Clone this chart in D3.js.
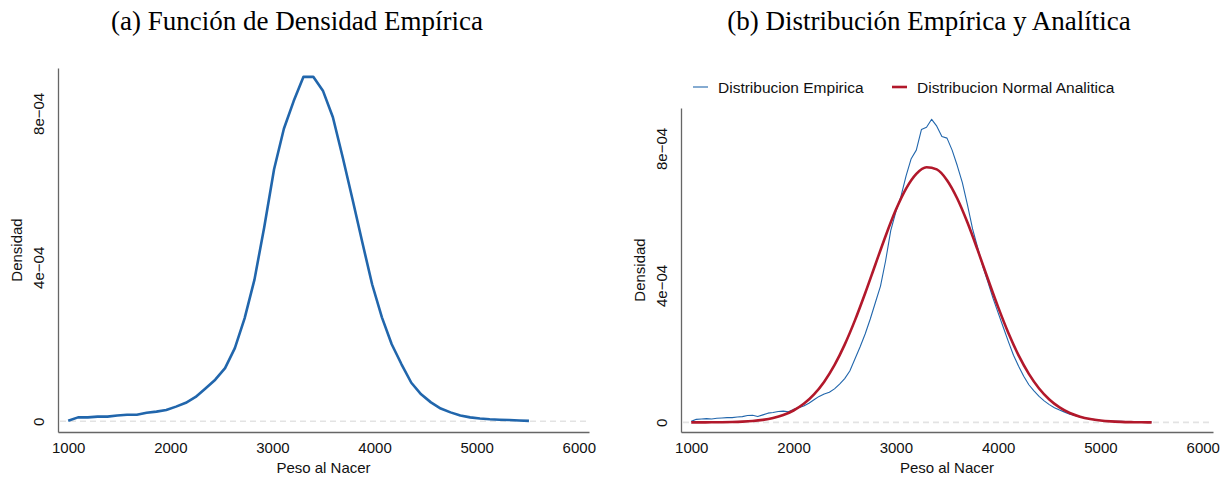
<!DOCTYPE html>
<html>
<head>
<meta charset="utf-8">
<script src="https://cdn.jsdelivr.net/npm/d3@7"></script>
<style>
  html, body { margin: 0; padding: 0; background: #fff; }
  svg { display: block; }
</style>
</head>
<body>
<svg id="chart" width="1230" height="479"></svg>
<script>
// Densities are stored in units of 1e-4.
const UNIT = 1e-4;

// (a) Empirical density function (birth weight, grams)
const weightsA = [1000, 1096, 1192, 1288, 1384, 1480, 1576, 1672, 1768, 1864,
  1960, 2056, 2152, 2248, 2344, 2440, 2536, 2632, 2728, 2824,
  2920, 3016, 3112, 3208, 3304, 3400, 3496, 3592, 3688, 3784,
  3880, 3976, 4072, 4168, 4264, 4360, 4456, 4552, 4648, 4744,
  4840, 4936, 5032, 5128, 5224, 5320, 5416, 5512];
const densityA = [0.01, 0.10, 0.10, 0.12, 0.12, 0.15, 0.17, 0.17, 0.22, 0.25,
  0.29, 0.38, 0.48, 0.63, 0.85, 1.08, 1.38, 1.90, 2.68, 3.68,
  5.05, 6.55, 7.60, 8.32, 8.95, 8.95, 8.58, 7.90, 6.86, 5.77,
  4.65, 3.56, 2.70, 2.00, 1.48, 1.00, 0.70, 0.49, 0.33, 0.23,
  0.15, 0.10, 0.07, 0.05, 0.04, 0.03, 0.02, 0.01];

// (b) Empirical distribution on a finer grid
const weightsE = [1000, 1050, 1100, 1150, 1200, 1250, 1300, 1350, 1400, 1450,
  1500, 1550, 1600, 1650, 1700, 1750, 1800, 1850, 1900, 1950,
  2000, 2050, 2100, 2150, 2200, 2250, 2300, 2350, 2400, 2450,
  2500, 2550, 2600, 2650, 2700, 2750, 2800, 2850, 2900, 2950,
  3000, 3050, 3100, 3150, 3200, 3250, 3300, 3350, 3400, 3450,
  3500, 3550, 3600, 3650, 3700, 3750, 3800, 3850, 3900, 3950,
  4000, 4050, 4100, 4150, 4200, 4250, 4300, 4350, 4400, 4450,
  4500, 4550, 4600, 4650, 4700, 4750, 4800, 4850, 4900, 4950,
  5000, 5050, 5100, 5150, 5200, 5250, 5300, 5350, 5400, 5450, 5500];
const densityE = [0.03, 0.09, 0.10, 0.11, 0.10, 0.12, 0.13, 0.14, 0.14, 0.16,
  0.17, 0.20, 0.21, 0.17, 0.22, 0.27, 0.29, 0.32, 0.33, 0.31,
  0.38, 0.43, 0.48, 0.56, 0.66, 0.76, 0.83, 0.88, 0.98, 1.12,
  1.28, 1.50, 1.85, 2.20, 2.58, 3.02, 3.50, 3.98, 4.72, 5.60,
  6.15, 6.60, 7.20, 7.70, 7.95, 8.55, 8.62, 8.85, 8.65, 8.35,
  8.30, 7.95, 7.50, 7.00, 6.35, 5.65, 5.10, 4.55, 4.10, 3.62,
  3.20, 2.78, 2.36, 1.96, 1.64, 1.35, 1.10, 0.92, 0.76, 0.63,
  0.52, 0.43, 0.36, 0.30, 0.24, 0.20, 0.16, 0.13, 0.10, 0.08,
  0.06, 0.05, 0.04, 0.035, 0.03, 0.025, 0.02, 0.018, 0.015, 0.012, 0.01];

// (b) Analytic normal distribution
const weightsN = [1000, 1100, 1200, 1300, 1400, 1500, 1600, 1700, 1800, 1900,
  2000, 2100, 2200, 2300, 2400, 2500, 2600, 2700, 2800, 2900,
  3000, 3100, 3200, 3300, 3400, 3500, 3600, 3700, 3800, 3900,
  4000, 4100, 4200, 4300, 4400, 4500, 4600, 4700, 4800, 4900,
  5000, 5100, 5200, 5300, 5400, 5500];
const densityN = [0.0006, 0.0013, 0.0028, 0.0058, 0.0115, 0.022, 0.041, 0.074, 0.128, 0.215,
  0.348, 0.542, 0.818, 1.19, 1.673, 2.272, 2.979, 3.771, 4.611, 5.444,
  6.206, 6.828, 7.259, 7.452, 7.387, 7.071, 6.537, 5.835, 5.030, 4.187,
  3.365, 2.611, 1.957, 1.418, 0.991, 0.669, 0.437, 0.275, 0.167, 0.098,
  0.0555, 0.0304, 0.016, 0.0082, 0.004, 0.0019];

const xTicks = [1000, 2000, 3000, 4000, 5000, 6000];
const yTicks = [0, 4e-4, 8e-4];
const yTickLabels = ["0", "4e\u221204", "8e\u221204"];

const titles = ["(a) Funci\u00f3n de Densidad Emp\u00edrica", "(b) Distribuci\u00f3n Emp\u00edrica y Anal\u00edtica"];
const xTitle = "Peso al Nacer";
const yTitle = "Densidad";
const legendLabels = ["Distribucion Empirica", "Distribucion Normal Analitica"];

const BLUE = "#2166ac";
const RED = "#b2182b";
const SANS = "'Liberation Sans', Arial, Helvetica, sans-serif";
const SERIF = "'Liberation Serif', 'Times New Roman', serif";
const FS = 15;

const svg = d3.select("#chart");
const xDomain = [900, 6100];
const yDomain = [-0.28e-4, 9.18e-4];

function zip(xs, ys) { return xs.map((w, i) => ({ w: w, d: ys[i] * UNIT })); }

function panel(opts) {
  const x = d3.scaleLinear().domain(xDomain).range([opts.left, opts.right]);
  const y = d3.scaleLinear().domain(yDomain).range([opts.bottom, opts.top]);
  const g = svg.append("g");

  // dashed reference line at zero density
  g.append("line")
    .attr("x1", opts.left + 2).attr("x2", opts.right)
    .attr("y1", y(0)).attr("y2", y(0))
    .attr("stroke", "#e3e3e3").attr("stroke-width", 1.6)
    .attr("stroke-dasharray", "6,4");

  // axes
  const xa = g.append("g")
    .attr("transform", `translate(0,${opts.bottom})`)
    .call(d3.axisBottom(x).tickValues(xTicks).tickFormat(d3.format("d"))
      .tickSize(0).tickSizeOuter(0).tickPadding(10));
  const ya = g.append("g")
    .attr("transform", `translate(${opts.left},0)`)
    .call(d3.axisLeft(y).tickValues(yTicks).tickFormat((d, i) => yTickLabels[i])
      .tickSize(0).tickSizeOuter(0));
  [xa, ya].forEach(a => {
    a.select(".domain").attr("stroke", "#666").attr("stroke-width", 1.3);
    a.selectAll("text").attr("font-family", SANS).attr("font-size", FS).attr("fill", "#111");
  });
  ya.selectAll(".tick text")
    .attr("transform", "rotate(-90)")
    .attr("x", 0).attr("y", -14).attr("dy", 0)
    .attr("text-anchor", "middle");

  // axis titles
  g.append("text")
    .attr("x", (opts.left + opts.right) / 2).attr("y", 473)
    .attr("text-anchor", "middle")
    .attr("font-family", SANS).attr("font-size", FS).attr("fill", "#111")
    .text(xTitle);
  g.append("text")
    .attr("transform", `translate(${opts.left - 36},${(opts.top + opts.bottom) / 2}) rotate(-90)`)
    .attr("text-anchor", "middle")
    .attr("font-family", SANS).attr("font-size", FS).attr("fill", "#111")
    .text(yTitle);

  // panel title
  svg.append("text")
    .attr("x", opts.titleX).attr("y", 30)
    .attr("text-anchor", "middle")
    .attr("font-family", SERIF).attr("font-size", 27).attr("fill", "#000")
    .text(opts.title);

  return { g: g, x: x, y: y };
}

// Panel (a)
const pa = panel({ left: 58, right: 589, top: 68, bottom: 432, titleX: 297, title: titles[0] });
const lineA = d3.line().x(p => pa.x(p.w)).y(p => pa.y(p.d));
pa.g.append("path")
  .datum(zip(weightsA, densityA))
  .attr("d", lineA)
  .attr("fill", "none").attr("stroke", BLUE).attr("stroke-width", 2.6)
  .attr("stroke-linejoin", "round");

// Panel (b)
const pb = panel({ left: 681, right: 1213, top: 108, bottom: 432, titleX: 929, title: titles[1] });
const lineE = d3.line().x(p => pb.x(p.w)).y(p => pb.y(p.d));
const lineN = d3.line().curve(d3.curveMonotoneX).x(p => pb.x(p.w)).y(p => pb.y(p.d));
pb.g.append("path")
  .datum(zip(weightsE, densityE))
  .attr("d", lineE)
  .attr("fill", "none").attr("stroke", BLUE).attr("stroke-width", 1.1)
  .attr("stroke-linejoin", "round");
pb.g.append("path")
  .datum(zip(weightsN, densityN))
  .attr("d", lineN)
  .attr("fill", "none").attr("stroke", RED).attr("stroke-width", 2.6)
  .attr("stroke-linejoin", "round");

// Legend
const legend = svg.append("g").attr("transform", "translate(693,87)");
const legendItems = [
  { label: legendLabels[0], color: BLUE, width: 1.1, dx: 0 },
  { label: legendLabels[1], color: RED, width: 2.6, dx: 199 }
];
legendItems.forEach(it => {
  const li = legend.append("g").attr("transform", `translate(${it.dx},0)`);
  li.append("line").attr("x1", 0).attr("x2", 15).attr("y1", 0).attr("y2", 0)
    .attr("stroke", it.color).attr("stroke-width", it.width);
  li.append("text").attr("x", 25).attr("y", 5.5)
    .attr("font-family", SANS).attr("font-size", 15.5).attr("fill", "#111")
    .text(it.label);
});
</script>
</body>
</html>
